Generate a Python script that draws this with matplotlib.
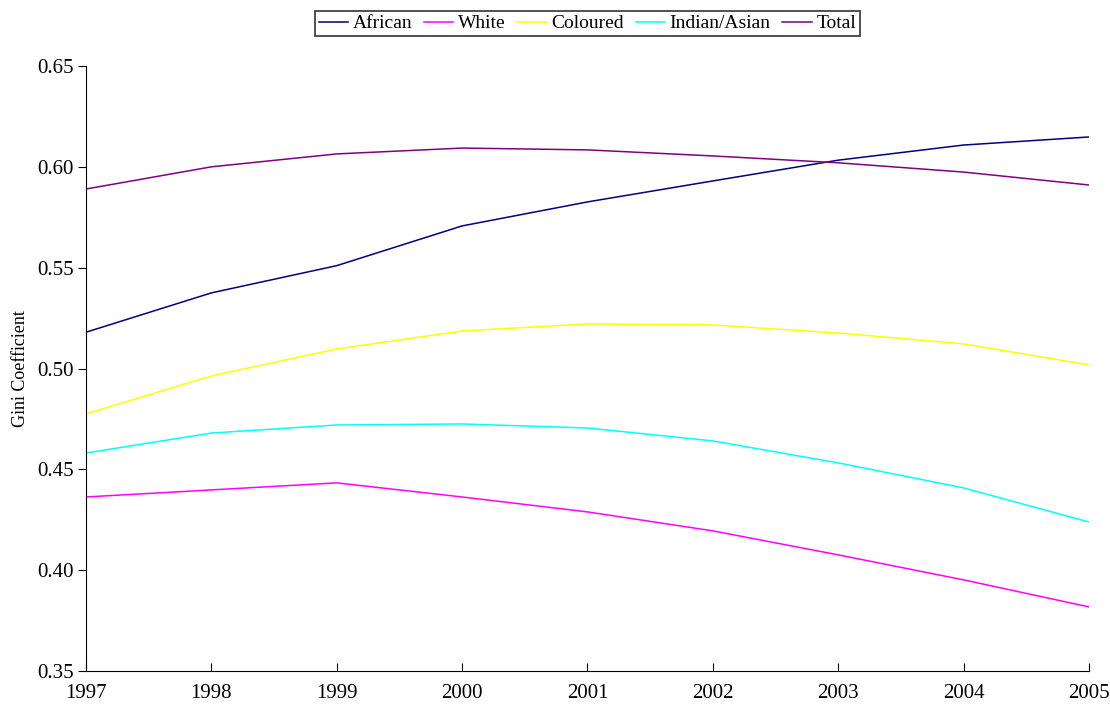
import matplotlib
matplotlib.use("Agg")
import matplotlib.pyplot as plt

years = [1997, 1998, 1999, 2000, 2001, 2002, 2003, 2004, 2005]
african = [0.518, 0.5375, 0.551, 0.5707, 0.5826, 0.593, 0.6033, 0.6108, 0.6148]
white = [0.4363, 0.4398, 0.4433, 0.4363, 0.4289, 0.4195, 0.4076, 0.3952, 0.3818]
coloured = [0.4775, 0.4963, 0.5097, 0.5186, 0.5221, 0.5216, 0.5176, 0.5122, 0.5018]
indian = [0.4581, 0.468, 0.472, 0.4725, 0.4705, 0.4641, 0.4532, 0.4408, 0.4239]
total = [0.589, 0.600, 0.6064, 0.6093, 0.6084, 0.6054, 0.602, 0.5974, 0.591]

series = [("African", african, "#000080"),
          ("White", white, "#FF00FF"),
          ("Coloured", coloured, "#FFFF00"),
          ("Indian/Asian", indian, "#00FFFF"),
          ("Total", total, "#800080")]

plt.rcParams['font.family'] = ['Liberation Serif', 'DejaVu Serif']

fig = plt.figure(figsize=(11.1, 7.05), dpi=100)
ax = fig.add_axes([0.0775, 0.0482, 0.9035, 0.8582])

for name, vals, col in series:
    ax.plot(years, vals, color=col, linewidth=1.1, label=name)

ax.set_xlim(1997, 2005)
ax.set_ylim(0.35, 0.65)
ax.set_xticks(years)
ax.set_yticks([0.35, 0.40, 0.45, 0.50, 0.55, 0.60, 0.65])
ax.yaxis.set_major_formatter(matplotlib.ticker.FormatStrFormatter('%.2f'))
ax.tick_params(axis='both', labelsize=15)
ax.tick_params(axis='y', direction='out', length=6, pad=3)
ax.tick_params(axis='x', direction='in', length=6, pad=9)
ax.spines['top'].set_visible(False)
ax.spines['right'].set_visible(False)
ax.set_ylabel("Gini Coefficient", fontsize=13, labelpad=6)

leg = ax.legend(loc='upper center', bbox_to_anchor=(0.5, 1.091), ncol=5, fontsize=14,
                frameon=True, fancybox=False, edgecolor='black', handlelength=1.5,
                handletextpad=0.25, columnspacing=0.6, borderpad=0.2, borderaxespad=0)
leg.get_frame().set_linewidth(1.2)

fig.savefig("out.png", dpi=100)
